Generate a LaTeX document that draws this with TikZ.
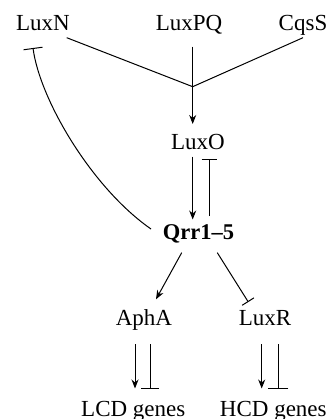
\documentclass[tikz,border=0pt]{standalone}
\usepackage{fontspec}
\setmainfont{Liberation Serif}
\usetikzlibrary{arrows.meta}
\begin{document}
\begin{tikzpicture}[x=1pt,y=-1pt,
  lab/.style={anchor=base,inner sep=0pt,font=\fontsize{23}{27}\selectfont},
  boldlab/.style={lab,font=\fontsize{22.5}{27}\selectfont\bfseries},
  link/.style={line width=1pt},
  act/.style={link,-{Stealth[length=9pt,width=7pt]}},
  inh/.style={link,-{Bar[width=#1,line width=1pt]}},
  inh/.default=16pt]
\useasboundingbox (0,0) rectangle (331,419);

% sensors
\node[lab] (luxn)  at (43,31)  {LuxN};
\node[lab] (luxpq) at (189,31) {LuxPQ};
\node[lab] (cqss)  at (303,31) {CqsS};
% regulators
\node[lab]     (luxo) at (198,150) {LuxO};
\node[boldlab] (qrr)  at (198.5,239.5) {Qrr1–5};
\node[lab]     (apha) at (144,325.7) {AphA};
\node[lab]     (luxr) at (265,325.7) {LuxR};
% target genes
\node[lab] (lcd) at (133.3,416) {LCD genes};
\node[lab] (hcd) at (273.3,416) {HCD genes};

% connector end points
\coordinate (luxnout)  at (66.7,37.7);
\coordinate (cqssout)  at (303,37.7);
\coordinate (join)     at (192.7,86.7);
\coordinate (luxpqout) at (192.7,46.7);
\coordinate (luxoin)   at (192.7,124);
\coordinate (luxnbar)  at (33,48);
\coordinate (qrrleft)  at (151,229);
\coordinate (luxoout)  at (192.7,156.7);
\coordinate (qrrin)    at (192.7,219.5);
\coordinate (qrrup)    at (209,216);
\coordinate (luxobar)  at (209,159.3);
\coordinate (qrrdl)    at (181.7,252.7);
\coordinate (aphain)   at (156,299.3);
\coordinate (qrrdr)    at (217.3,252.7);
\coordinate (luxrbar)  at (248.3,302);
\coordinate (aphaa)    at (135,344.3);
\coordinate (lcda)     at (135,388.5);
\coordinate (aphai)    at (150,344.3);
\coordinate (lcdi)     at (150,389);
\coordinate (luxra)    at (261.7,344.3);
\coordinate (hcda)     at (261.7,388.5);
\coordinate (luxri)    at (278.3,344.3);
\coordinate (hcdi)     at (278.3,389);

% signalling network
\draw[link] (luxnout) -- (join) -- (cqssout);
\draw[act] (luxpqout) -- (luxoin);
\draw[inh=19pt] (qrrleft) .. controls (92,188) and (40,100) .. (luxnbar);
\draw[act] (luxoout) -- (qrrin);
\draw[inh=15pt] (qrrup) -- (luxobar);
\draw[act] (qrrdl) -- (aphain);
\draw[inh=14pt] (qrrdr) -- (luxrbar);
\draw[act] (aphaa) -- (lcda);
\draw[inh=18pt] (aphai) -- (lcdi);
\draw[act] (luxra) -- (hcda);
\draw[inh=20pt] (luxri) -- (hcdi);
\end{tikzpicture}
\end{document}
